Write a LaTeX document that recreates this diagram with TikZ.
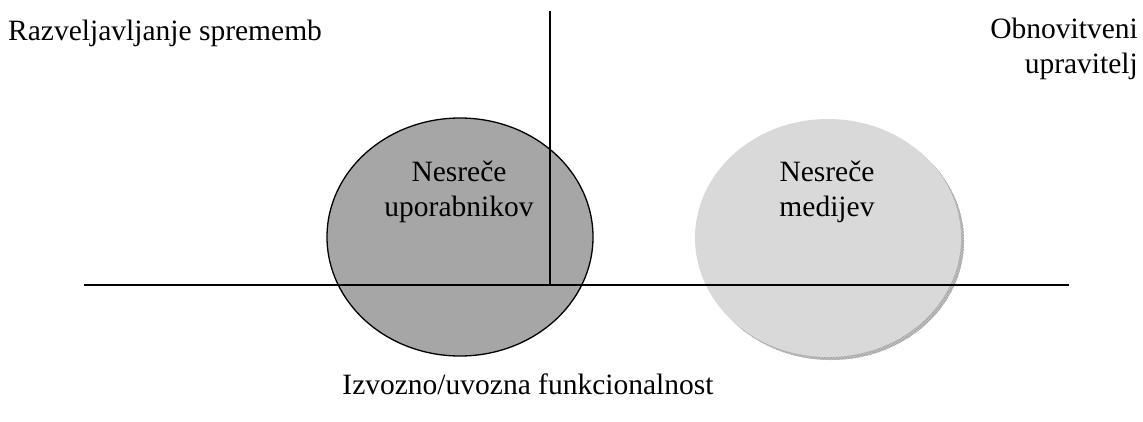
\documentclass[tikz,border=0pt]{standalone}
\usepackage{fontspec}
\setmainfont{Liberation Serif}
\usetikzlibrary{patterns,shapes.geometric}
\definecolor{darkfill}{HTML}{A6A6A6}
\definecolor{lightfill}{HTML}{D9D9D9}
\definecolor{shadowfill}{HTML}{C4C4C4}
\begin{document}
\begin{tikzpicture}[x=1pt,y=-1pt,
  txt/.style={font=\fontsize{29.5}{35}\selectfont, inner sep=0pt, align=center},
  axis/.style={line width=1.4pt, black}]
\useasboundingbox (0,0) rectangle (1143,421);
% axis end points
\coordinate (hl) at (84,285);
\coordinate (hr) at (1069,285);
\coordinate (vt) at (550,11);
\coordinate (vb) at (550,285);
% left circle
\node (user) [ellipse, draw=black, line width=1.3pt, fill=darkfill, minimum width=266pt, minimum height=238pt, inner sep=0pt] at (460,237) {};
% right circle with its hatched shadow
\fill[shadowfill] (831,241) ellipse [x radius=133, y radius=119];
\fill[pattern=crosshatch, pattern color=gray!70] (831,241) ellipse [x radius=133, y radius=119];
\node (media) [ellipse, fill=lightfill, minimum width=266pt, minimum height=238pt, inner sep=0pt] at (828,238) {};
% axes
\draw[axis] (hl) -- (hr);
\draw[axis] (vt) -- (vb);
% texts
\node (tuser) [txt] at (459,192) {Nesreče\\uporabnikov};
\node (tmedia) [txt] at (827,192) {Nesreče\\medijev};
\node (undo) [txt, anchor=west] at (8,33) {Razveljavljanje sprememb};
\node (recov) [txt, anchor=north east, align=right] at (1138,18) {Obnovitveni\\upravitelj};
\node (export) [txt] at (528,384) {Izvozno/uvozna funkcionalnost};
\end{tikzpicture}
\end{document}
